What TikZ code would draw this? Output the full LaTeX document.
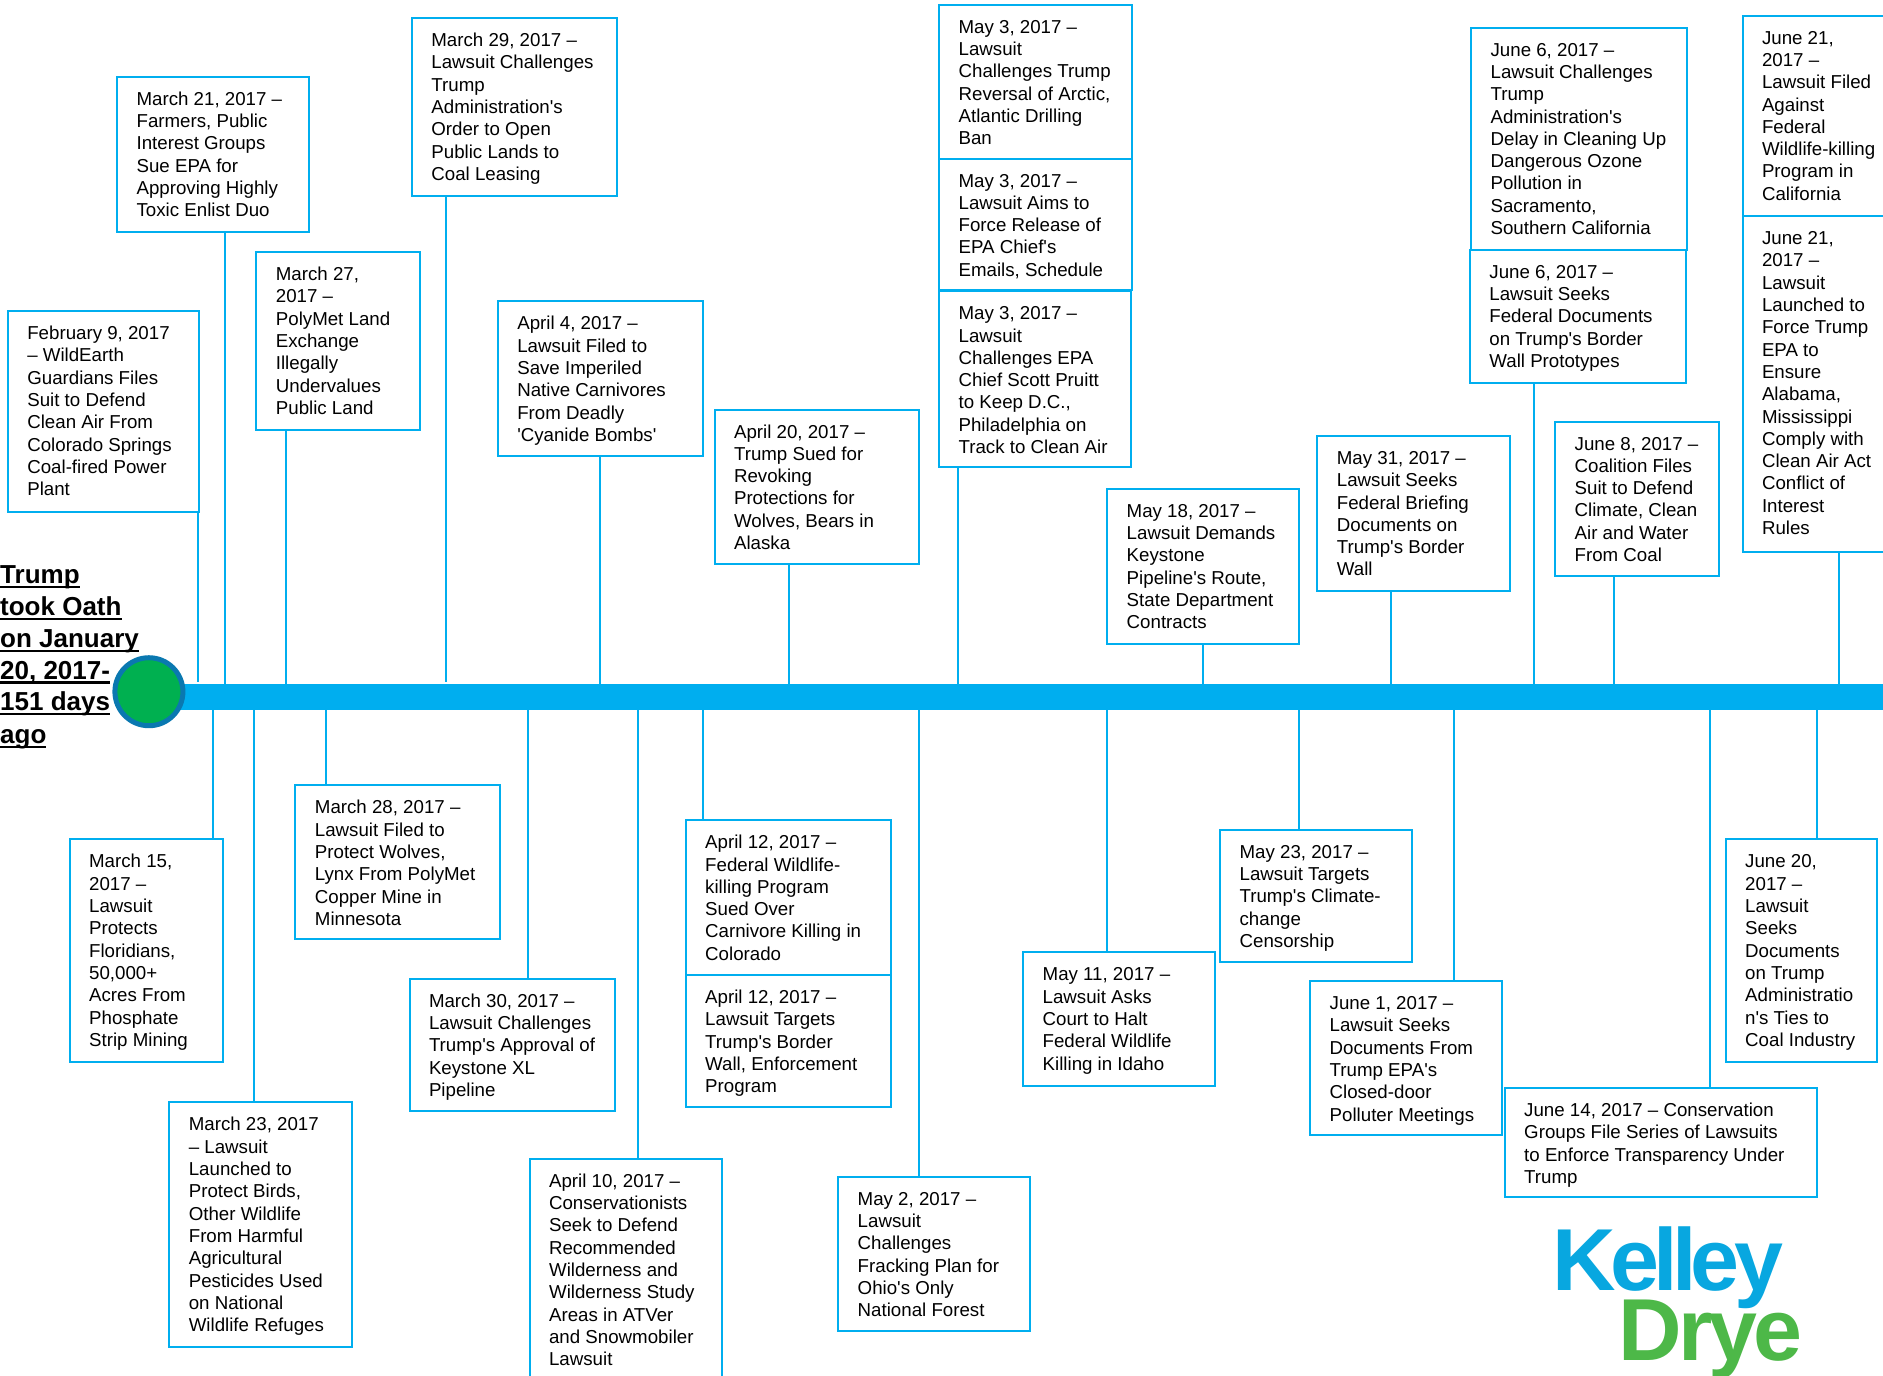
\documentclass[tikz,border=0pt]{standalone}
\usepackage{fontspec}
\setmainfont{Liberation Sans}
\newfontfamily\evfont{Liberation Sans}
\newfontfamily\logofonta[LetterSpace=-6.5]{Liberation Sans Bold}
\newfontfamily\logofontb[LetterSpace=-4.5]{Liberation Sans Bold}
\definecolor{evcyan}{HTML}{00AEEF}
\definecolor{logoblue}{HTML}{08A7E0}
\definecolor{logogreen}{HTML}{4DB848}
\definecolor{dotgreen}{HTML}{00B050}
\definecolor{dotblue}{HTML}{0A78B0}
\newlength\evw
\newlength\evh
\newcommand{\evbox}[6]{%
  \pgfmathsetlength\evw{(#4-#2)*1.2009}%
  \pgfmathsetlength\evh{(#5-#3)*1.2009}%
  \node[evstyle] (#1) at (#2,#3) {\parbox[c][\evh][t]{\evw}{\raggedright\leftskip=19.5pt\relax\rule{0pt}{28.5pt}#6}};%
}
\newcommand{\uplink}[3][]{%
  \coordinate (tmpc) at (#3,0);
  \draw[conn,#1] (tmpc |- #2.south) -- (tmpc |- bar.north);
}
\newcommand{\downlink}[2]{%
  \coordinate (tmpc) at (#2,0);
  \draw[conn] (tmpc |- bar.south) -- (tmpc |- #1.north);
}
\newcommand{\titleline}[1]{\setbox0=\hbox{#1}\rlap{\raisebox{-4.5pt}{\rule{\wd0}{2.2pt}}}\box0}
\tikzset{
  evstyle/.style={draw=evcyan,line width=2pt,fill=white,inner sep=0pt,outer sep=0pt,anchor=north west,
    font=\evfont\fontsize{18.7}{22.3}\selectfont},
  conn/.style={draw=evcyan,line width=2pt},
  titletext/.style={anchor=base west,inner sep=0pt,font=\evfont\bfseries\fontsize{26}{32}\selectfont},
  logotext/.style={anchor=base west,inner sep=0pt},
}
\begin{document}
\begin{tikzpicture}[x=1.2009pt,y=-1.2009pt]
\useasboundingbox (0,0) rectangle (1568,1145);
\clip (0,0) rectangle (1568,1145);
% timeline
\node[fill=evcyan,inner sep=0pt,outer sep=0pt,anchor=north west,minimum width=1750pt,minimum height=26pt] (bar) at (124,569.6) {};
\node[circle,fill=dotgreen,draw=dotblue,line width=5pt,minimum size=68pt,inner sep=0pt,outer sep=0pt] (dot) at (124,576) {};
% title
\node[titletext] (t1) at (0,486) {\titleline{Trump}};
\node[titletext] (t2) at (0,512.5) {\titleline{took Oath}};
\node[titletext] (t3) at (0,539) {\titleline{on January}};
\node[titletext] (t4) at (0,565.5) {\titleline{20, 2017-}};
\node[titletext] (t5) at (0,592) {\titleline{151 days}};
\node[titletext] (t6) at (0,619) {\titleline{ago}};
% upper boxes
\evbox{feb}{6.5}{259}{166}{426}{February 9, 2017\\– WildEarth\\Guardians Files\\Suit to Defend\\Clean Air From\\Colorado Springs\\Coal-fired Power\\Plant}
\evbox{marb}{97.5}{64}{257}{193}{March 21, 2017 –\\Farmers, Public\\Interest Groups\\Sue EPA for\\Approving Highly\\Toxic Enlist Duo}
\evbox{mard}{213.5}{210}{350}{358}{March 27,\\2017 –\\PolyMet Land\\Exchange\\Illegally\\Undervalues\\Public Land}
\evbox{marf}{343}{15}{514}{163}{March 29, 2017 –\\Lawsuit Challenges\\Trump\\Administration's\\Order to Open\\Public Lands to\\Coal Leasing}
\evbox{apra}{414.5}{251}{585}{380}{April 4, 2017 –\\Lawsuit Filed to\\Save Imperiled\\Native Carnivores\\From Deadly\\'Cyanide Bombs'}
\evbox{aprd}{595}{341}{765}{470}{April 20, 2017 –\\Trump Sued for\\Revoking\\Protections for\\Wolves, Bears in\\Alaska}
\evbox{mayb}{782}{4}{943}{132}{May 3, 2017 –\\Lawsuit\\Challenges Trump\\Reversal of Arctic,\\Atlantic Drilling\\Ban}
\evbox{mayc}{782}{132}{943}{241.5}{May 3, 2017 –\\Lawsuit Aims to\\Force Release of\\EPA Chief's\\Emails, Schedule}
\evbox{mayd}{782}{242.5}{942}{389}{May 3, 2017 –\\Lawsuit\\Challenges EPA\\Chief Scott Pruitt\\to Keep D.C.,\\Philadelphia on\\Track to Clean Air}
\evbox{maye}{922}{407}{1082}{536}{May 18, 2017 –\\Lawsuit Demands\\Keystone\\Pipeline's Route,\\State Department\\Contracts}
\evbox{mayh}{1097}{363}{1257}{492}{May 31, 2017 –\\Lawsuit Seeks\\Federal Briefing\\Documents on\\Trump's Border\\Wall}
\evbox{juna}{1225}{23}{1405}{208}{June 6, 2017 –\\Lawsuit Challenges\\Trump\\Administration's\\Delay in Cleaning Up\\Dangerous Ozone\\Pollution in\\Sacramento,\\Southern California}
\evbox{junb}{1224}{208}{1404}{319}{June 6, 2017 –\\Lawsuit Seeks\\Federal Documents\\on Trump's Border\\Wall Prototypes}
\evbox{junc}{1295}{351}{1431}{480}{June 8, 2017 –\\Coalition Files\\Suit to Defend\\Climate, Clean\\Air and Water\\From Coal}
\evbox{junf}{1451}{13}{1600}{180}{June 21,\\2017 –\\Lawsuit Filed\\Against\\Federal\\Wildlife-killing\\Program in\\California}
\evbox{jung}{1451}{180}{1600}{460}{June 21,\\2017 –\\Lawsuit\\Launched to\\Force Trump\\EPA to\\Ensure\\Alabama,\\Mississippi\\Comply with\\Clean Air Act\\Conflict of\\Interest\\Rules}
% lower boxes
\evbox{mara}{58}{699}{186}{884}{March 15,\\2017 –\\Lawsuit\\Protects\\Floridians,\\50,000+\\Acres From\\Phosphate\\Strip Mining}
\evbox{marc}{141}{918}{293}{1122}{March 23, 2017\\– Lawsuit\\Launched to\\Protect Birds,\\Other Wildlife\\From Harmful\\Agricultural\\Pesticides Used\\on National\\Wildlife Refuges}
\evbox{mare}{246}{654}{416}{782}{March 28, 2017 –\\Lawsuit Filed to\\Protect Wolves,\\Lynx From PolyMet\\Copper Mine in\\Minnesota}
\evbox{marg}{341}{815}{512}{925}{March 30, 2017 –\\Lawsuit Challenges\\Trump's Approval of\\Keystone XL\\Pipeline}
\evbox{aprb}{441}{965}{601}{1170}{April 10, 2017 –\\Conservationists\\Seek to Defend\\Recommended\\Wilderness and\\Wilderness Study\\Areas in ATVer\\and Snowmobiler\\Lawsuit}
\evbox{aprc}{571}{683}{742}{812}{April 12, 2017 –\\Federal Wildlife-\\killing Program\\Sued Over\\Carnivore Killing in\\Colorado}
\evbox{aprx}{571}{812}{742}{922}{April 12, 2017 –\\Lawsuit Targets\\Trump's Border\\Wall, Enforcement\\Program}
\evbox{maya}{698}{980}{858}{1108}{May 2, 2017 –\\Lawsuit\\Challenges\\Fracking Plan for\\Ohio's Only\\National Forest}
\evbox{mayx}{852}{793}{1012}{904}{May 11, 2017 –\\Lawsuit Asks\\Court to Halt\\Federal Wildlife\\Killing in Idaho}
\evbox{mayf}{1016}{691}{1176}{801}{May 23, 2017 –\\Lawsuit Targets\\Trump's Climate-\\change\\Censorship}
\evbox{juny}{1091}{817}{1251}{945}{June 1, 2017 –\\Lawsuit Seeks\\Documents From\\Trump EPA's\\Closed-door\\Polluter Meetings}
\evbox{jund}{1253}{906}{1513}{997}{June 14, 2017 – Conservation\\Groups File Series of Lawsuits\\to Enforce Transparency Under\\Trump}
\evbox{june}{1437}{699}{1563}{884}{June 20,\\2017 –\\Lawsuit\\Seeks\\Documents\\on Trump\\Administratio\\n's Ties to\\Coal Industry}
% connectors
\uplink[shorten >=2pt]{feb}{165}
\uplink{marb}{187}
\uplink{mard}{238}
\uplink[shorten >=2pt]{marf}{371}
\uplink{apra}{500}
\uplink{aprd}{657}
\uplink{mayd}{798}
\uplink{maye}{1002}
\uplink{mayh}{1158}
\uplink{junb}{1277}
\uplink{junc}{1344}
\uplink{jung}{1531}
\downlink{mara}{177}
\downlink{marc}{211.5}
\downlink{mare}{271.5}
\downlink{marg}{440}
\downlink{aprb}{531}
\downlink{aprc}{585}
\downlink{maya}{765}
\downlink{mayx}{922}
\downlink{mayf}{1081.5}
\downlink{juny}{1210.5}
\downlink{jund}{1424}
\downlink{june}{1513}
% logo
\node[logotext,text=logoblue,font=\logofonta\fontsize{88}{88}\selectfont] (kelley) at (1292.5,1075) {Kelley};
\node[logotext,text=logogreen,font=\logofontb\fontsize{88}{88}\selectfont] (drye) at (1347.5,1133) {Drye};
\end{tikzpicture}
\end{document}
